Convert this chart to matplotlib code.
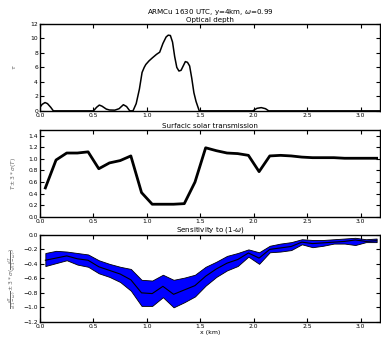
import numpy as np
import matplotlib
matplotlib.use("Agg")
import matplotlib.pyplot as plt

# optical depth profile
tau_x = [0.0, 0.02, 0.047, 0.07, 0.1, 0.125, 0.5, 0.53, 0.555, 0.58, 0.62, 0.65,
         0.7, 0.74, 0.78, 0.81, 0.84, 0.87, 0.9, 0.93, 0.955, 0.975, 0.99, 1.02,
         1.05, 1.09, 1.12, 1.15, 1.18, 1.2, 1.22, 1.24, 1.26, 1.28, 1.3, 1.32,
         1.34, 1.36, 1.38, 1.4, 1.42, 1.44, 1.46, 1.49, 1.99, 2.03, 2.07, 2.11, 2.14, 3.2]
tau_y = [0.5, 0.9, 1.15, 1.0, 0.5, 0.0, 0.0, 0.5, 0.8, 0.65, 0.25, 0.12,
         0.1, 0.3, 0.85, 0.6, 0.0, 0.0, 1.0, 3.0, 5.3, 6.0, 6.4, 6.9,
         7.3, 7.8, 8.1, 9.3, 10.2, 10.45, 10.4, 9.5, 7.5, 6.0, 5.5, 5.6,
         6.2, 6.8, 6.7, 6.2, 4.5, 2.5, 1.3, 0.0, 0.0, 0.35, 0.45, 0.3, 0.0, 0.0]

# column centres for transmission and sensitivity
x_col = [0.05, 0.15, 0.25, 0.35, 0.45, 0.55, 0.65, 0.75, 0.85, 0.95, 1.05, 1.15,
         1.25, 1.35, 1.45, 1.55, 1.65, 1.75, 1.85, 1.95, 2.05, 2.15, 2.25, 2.35,
         2.45, 2.55, 2.65, 2.75, 2.85, 2.95, 3.05, 3.15]
trans = [0.5, 0.98, 1.1, 1.1, 1.12, 0.83, 0.93, 0.97, 1.05, 0.42, 0.22, 0.22,
         0.22, 0.23, 0.6, 1.19, 1.14, 1.1, 1.09, 1.06, 0.78, 1.05, 1.06, 1.05,
         1.03, 1.02, 1.02, 1.02, 1.01, 1.01, 1.01, 1.01]
sens = [-0.35, -0.32, -0.29, -0.33, -0.35, -0.44, -0.49, -0.54, -0.62, -0.80, -0.81, -0.71,
        -0.82, -0.76, -0.70, -0.57, -0.47, -0.39, -0.34, -0.25, -0.32, -0.20, -0.18, -0.16,
        -0.10, -0.12, -0.11, -0.10, -0.09, -0.07, -0.09, -0.08]
sens_hi = [-0.25, -0.22, -0.23, -0.25, -0.27, -0.35, -0.40, -0.44, -0.47, -0.62, -0.63, -0.55,
           -0.62, -0.59, -0.55, -0.44, -0.37, -0.29, -0.25, -0.20, -0.24, -0.15, -0.12, -0.10,
           -0.06, -0.07, -0.07, -0.06, -0.05, -0.04, -0.06, -0.05]
sens_lo = [-0.43, -0.39, -0.35, -0.41, -0.44, -0.53, -0.58, -0.65, -0.77, -0.98, -0.98, -0.86,
           -1.00, -0.93, -0.85, -0.70, -0.58, -0.49, -0.43, -0.30, -0.40, -0.24, -0.23, -0.21,
           -0.13, -0.17, -0.15, -0.12, -0.12, -0.14, -0.10, -0.10]

plt.rcParams['font.size'] = 5
plt.rcParams['xtick.direction'] = 'in'
plt.rcParams['ytick.direction'] = 'in'
plt.rcParams['xtick.top'] = True
plt.rcParams['ytick.right'] = True
plt.rcParams['xtick.major.size'] = 3
plt.rcParams['ytick.major.size'] = 3
plt.rcParams['axes.linewidth'] = 1.0

fig = plt.figure(figsize=(3.81, 3.37), dpi=100)
left, width = 0.105, 0.892
ax1 = fig.add_axes([left, 0.671, width, 0.258])
ax2 = fig.add_axes([left, 0.356, width, 0.259])
ax3 = fig.add_axes([left, 0.045, width, 0.258])

ax1.plot(tau_x, tau_y, color='black', lw=1.1)
ax1.set_ylim(0, 12)
ax1.set_yticks(np.arange(0, 13, 2))
ax1.set_ylabel(r'$\tau$', fontsize=4.5, color='0.4')
ax1.set_title('ARMCu 1630 UTC, y=4km, $\\omega$=0.99\nOptical depth', fontsize=5.1, pad=1.5,
              linespacing=1.0)

ax2.plot(x_col, trans, color='black', lw=2.0)
ax2.set_ylim(0, 1.5)
ax2.set_yticks(np.arange(0, 1.41, 0.2))
ax2.set_ylabel(r'$T \pm 3*\sigma(T)$', fontsize=4.2, color='0.4')
ax2.set_title('Surfacic solar transmission', fontsize=5.1, pad=1.5)

ax3.fill_between(x_col, sens_lo, sens_hi, facecolor='blue', edgecolor='black', lw=0.6)
ax3.plot(x_col, sens, color='black', lw=0.8)
ax3.set_ylim(-1.2, 0)
ax3.set_yticks(np.arange(-1.2, 0.01, 0.2))
ax3.set_ylabel(r'$\frac{dT}{d(1-\omega)} \pm 3*\sigma(\frac{dT}{d(1-\omega)})$',
               fontsize=4.2, color='0.4')
ax3.set_title('Sensitivity to (1-$\\omega$)', fontsize=5.1, pad=1.5)
ax3.set_xlabel('x (km)', fontsize=4.5, labelpad=1)

for ax in (ax1, ax2, ax3):
    ax.set_xlim(0, 3.18)
    ax.set_xticks(np.arange(0, 3.01, 0.5))
    ax.tick_params(labelsize=4.3, pad=1.5, width=0.8)
    ax.yaxis.set_label_coords(-0.065, 0.5)

fig.savefig('out.png', dpi=100)
